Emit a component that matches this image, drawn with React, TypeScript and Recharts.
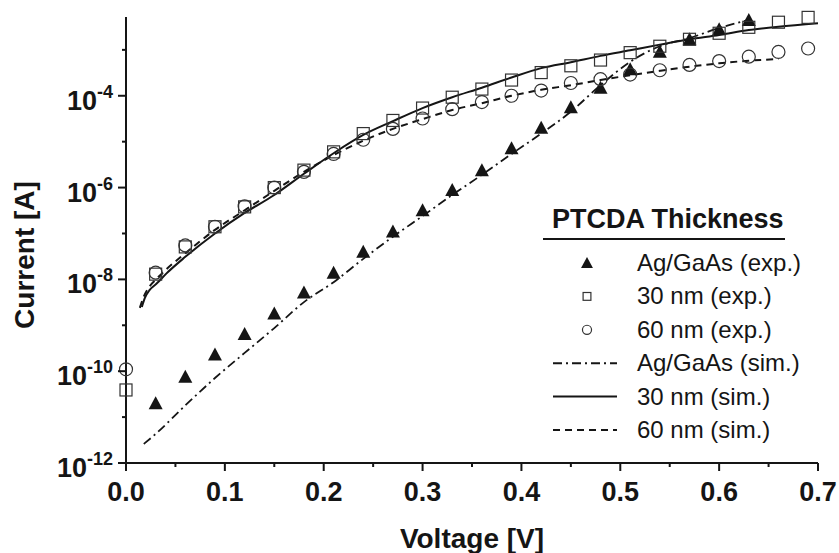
import React from 'react';
import { ComposedChart, Line, Scatter, XAxis, YAxis } from 'recharts';

// experimental points, every 30 mV
const expVoltage = [
  0.0, 0.03, 0.06, 0.09, 0.12, 0.15, 0.18, 0.21, 0.24, 0.27, 0.3, 0.33,
  0.36, 0.39, 0.42, 0.45, 0.48, 0.51, 0.54, 0.57, 0.6, 0.63, 0.66, 0.69,
];
const agGaAsExp = [
  null, 2.0e-11, 7.6e-11, 2.3e-10, 6.5e-10, 1.8e-9, 5.2e-9, 1.4e-8, 4.0e-8, 1.1e-7, 3.2e-7, 8.9e-7,
  2.4e-6, 7.2e-6, 2.0e-5, 5.6e-5, 1.5e-4, 3.8e-4, 9.1e-4, 1.7e-3, 2.8e-3, 4.5e-3, null, null,
];
const nm30Exp = [
  3.9e-11, 1.3e-8, 5.1e-8, 1.4e-7, 3.8e-7, 1.0e-6, 2.4e-6, 6.0e-6, 1.5e-5, 2.9e-5, 5.4e-5, 9.3e-5,
  1.4e-4, 2.2e-4, 3.2e-4, 4.5e-4, 6.0e-4, 8.7e-4, 1.2e-3, 1.7e-3, 2.3e-3, 3.1e-3, 4.0e-3, 5.1e-3,
];
const nm60Exp = [
  1.1e-10, 1.4e-8, 5.5e-8, 1.4e-7, 3.9e-7, 1.0e-6, 2.2e-6, 5.4e-6, 1.1e-5, 1.9e-5, 3.2e-5, 5.1e-5,
  7.3e-5, 1.0e-4, 1.3e-4, 1.9e-4, 2.3e-4, 2.9e-4, 3.6e-4, 4.7e-4, 5.7e-4, 7.1e-4, 9.0e-4, 1.07e-3,
];

// simulated curves
const agSimV = [
  0.018, 0.03, 0.06, 0.09, 0.12, 0.15, 0.18, 0.21, 0.24, 0.27, 0.3,
  0.33, 0.36, 0.39, 0.42, 0.45, 0.48, 0.51, 0.54, 0.57, 0.6, 0.63,
];
const agSimI = [
  2.6e-12, 4.3e-12, 1.8e-11, 7.1e-11, 2.5e-10, 8.7e-10, 3.2e-9, 8.7e-9, 2.8e-8, 8.5e-8, 2.4e-7,
  6.9e-7, 1.9e-6, 5.4e-6, 1.5e-5, 4.5e-5, 1.7e-4, 5.5e-4, 1.2e-3, 1.8e-3, 3.0e-3, 4.5e-3,
];
const nm30SimV = [
  0.016, 0.019, 0.024, 0.031, 0.041, 0.06, 0.09, 0.12, 0.15, 0.18, 0.21, 0.24, 0.27, 0.3,
  0.33, 0.36, 0.39, 0.42, 0.45, 0.48, 0.51, 0.54, 0.57, 0.6, 0.63, 0.66, 0.7,
];
const nm30SimI = [
  2.5e-9, 3.9e-9, 5.9e-9, 8.1e-9, 1.35e-8, 3.1e-8, 1.0e-7, 2.8e-7, 6.9e-7, 2.0e-6, 5.6e-6, 1.4e-5, 2.8e-5, 5.4e-5,
  9.3e-5, 1.5e-4, 2.5e-4, 4.0e-4, 5.4e-4, 7.4e-4, 9.8e-4, 1.3e-3, 1.7e-3, 2.1e-3, 2.7e-3, 3.2e-3, 3.8e-3,
];
const nm60SimV = [
  0.014, 0.018, 0.024, 0.03, 0.04, 0.06, 0.09, 0.12, 0.15, 0.18, 0.21, 0.24, 0.27, 0.3,
  0.33, 0.36, 0.39, 0.42, 0.45, 0.48, 0.51, 0.54, 0.57, 0.6, 0.63, 0.66,
];
const nm60SimI = [
  2.4e-9, 4.2e-9, 7.1e-9, 9.8e-9, 1.6e-8, 3.7e-8, 1.2e-7, 3.2e-7, 8.5e-7, 2.2e-6, 5.1e-6, 1.05e-5, 1.9e-5, 3.1e-5,
  4.9e-5, 6.9e-5, 1.0e-4, 1.35e-4, 1.7e-4, 2.2e-4, 2.8e-4, 3.5e-4, 4.3e-4, 5.1e-4, 5.8e-4, 6.3e-4,
];

const xTicks = [0, 0.05, 0.1, 0.15, 0.2, 0.25, 0.3, 0.35, 0.4, 0.45, 0.5, 0.55, 0.6, 0.65, 0.7];
const yTicks = [1e-12, 1e-11, 1e-10, 1e-9, 1e-8, 1e-7, 1e-6, 1e-5, 1e-4, 1e-3];

const FONT = '"Liberation Sans", Arial, Helvetica, sans-serif';
const INK = '#151515';

const toPoints = (xs: number[], ys: (number | null)[]) =>
  xs.map((v, k) => ({ v, i: ys[k] })).filter((d) => d.i != null);

const Triangle = ({ cx, cy, s = 1 }: any) => (
  <polygon points={`${cx},${cy - 7 * s} ${cx - 7 * s},${cy + 6 * s} ${cx + 7 * s},${cy + 6 * s}`} fill={INK} />
);
const Square = ({ cx, cy, s = 1 }: any) => (
  <rect x={cx - 6 * s} y={cy - 6 * s} width={12 * s} height={12 * s} fill="none" stroke="#333" strokeWidth={1.2} />
);
const Ring = ({ cx, cy, s = 1 }: any) => (
  <circle cx={cx} cy={cy} r={6.5 * s} fill="none" stroke="#333" strokeWidth={1.2} />
);

const XTick = ({ x, y, payload }: any) => {
  const v = payload.value;
  const major = Math.abs(v * 10 - Math.round(v * 10)) < 1e-6;
  return (
    <g>
      <line x1={x} x2={x} y1={y} y2={y + (major ? 8 : 4)} stroke={INK} strokeWidth={2} />
      {major && (
        <text x={x} y={y + 38} textAnchor="middle" fontFamily={FONT} fontWeight="bold" fontSize={27} fill={INK}>
          {v.toFixed(1)}
        </text>
      )}
    </g>
  );
};

const YTick = ({ x, y, payload }: any) => {
  const exp = Math.round(Math.log10(payload.value));
  const major = exp % 2 === 0;
  return (
    <g>
      <line x1={x - (major ? 8 : 4)} x2={x} y1={y} y2={y} stroke={INK} strokeWidth={2} />
      {major && (
        <text x={x - 13} y={y + 14} textAnchor="end" fontFamily={FONT} fontWeight="bold" fontSize={27} fill={INK}>
          <tspan>10</tspan>
          <tspan dy={-12} fontSize={18}>{exp}</tspan>
        </text>
      )}
    </g>
  );
};

const XTitle = () => (
  <text x={472} y={548} textAnchor="middle" fontFamily={FONT} fontWeight="bold" fontSize={28} fill={INK}>
    Voltage [V]
  </text>
);
const YTitle = () => (
  <text transform="translate(34,255) rotate(-90)" textAnchor="middle" fontFamily={FONT} fontWeight="bold" fontSize={28} fill={INK}>
    Current [A]
  </text>
);

const legendItems = [
  { label: 'Ag/GaAs (exp.)', marker: Triangle, s: 0.85 },
  { label: '30 nm (exp.)', marker: Square, s: 0.65 },
  { label: '60 nm (exp.)', marker: Ring, s: 0.7 },
  { label: 'Ag/GaAs (sim.)', dash: '9 4 2 4' },
  { label: '30 nm (sim.)', dash: undefined },
  { label: '60 nm (sim.)', dash: '7 5' },
];

const LegendBox = () => (
  <svg width={839} height={553} style={{ position: 'absolute', left: 0, top: 0, pointerEvents: 'none' }}>
    <text x={552} y={228} fontFamily={FONT} fontWeight="bold" fontSize={27} fill={INK}>
      PTCDA Thickness
    </text>
    <line x1={543} x2={785} y1={239} y2={239} stroke={INK} strokeWidth={2} />
    {legendItems.map((it: any, k) => {
      const cy = 263 + k * 33.4;
      return (
        <g key={it.label}>
          {it.marker ? (
            <it.marker cx={587} cy={cy} s={it.s} />
          ) : (
            <line x1={553} x2={617} y1={cy} y2={cy} stroke={INK} strokeWidth={2} strokeDasharray={it.dash} />
          )}
          <text x={637} y={cy + 8} fontFamily={FONT} fontSize={24} fill={INK}>
            {it.label}
          </text>
        </g>
      );
    })}
  </svg>
);

export default function App() {
  return (
    <div style={{ position: 'absolute', left: 0, top: 0, width: 839, height: 553, background: '#fff' }}>
      <ComposedChart width={839} height={553} margin={{ top: 17, right: 21, bottom: 0, left: 0 }}>
        <XAxis
          type="number"
          dataKey="v"
          domain={[0, 0.7]}
          ticks={xTicks}
          interval={0}
          height={90}
          tickSize={0}
          tickMargin={0}
          tickLine={false}
          tick={<XTick />}
          axisLine={{ stroke: INK, strokeWidth: 2 }}
          label={<XTitle />}
        />
        <XAxis
          xAxisId="top"
          orientation="top"
          type="number"
          domain={[0, 0.7]}
          ticks={xTicks}
          interval={0}
          height={0}
          mirror
          tick={false}
          tickSize={2}
          tickLine={{ stroke: INK, strokeWidth: 1 }}
          axisLine={{ stroke: INK, strokeWidth: 2 }}
        />
        <YAxis
          type="number"
          dataKey="i"
          scale="log"
          domain={[1e-12, 5.2e-3]}
          ticks={yTicks}
          interval={0}
          width={126}
          tickSize={0}
          tickMargin={0}
          tickLine={false}
          tick={<YTick />}
          axisLine={{ stroke: INK, strokeWidth: 2 }}
          label={<YTitle />}
        />
        <YAxis
          yAxisId="right"
          orientation="right"
          type="number"
          scale="log"
          domain={[1e-12, 5.2e-3]}
          ticks={yTicks}
          interval={0}
          width={0}
          mirror
          tick={false}
          tickSize={3}
          tickLine={{ stroke: INK, strokeWidth: 1 }}
          axisLine={{ stroke: INK, strokeWidth: 2 }}
        />
        <Line
          data={toPoints(agSimV, agSimI)}
          dataKey="i"
          type="monotone"
          stroke={INK}
          strokeWidth={1.8}
          strokeDasharray="9 4 2 4"
          dot={false}
          activeDot={false}
          isAnimationActive={false}
        />
        <Line
          data={toPoints(nm30SimV, nm30SimI)}
          dataKey="i"
          type="monotone"
          stroke={INK}
          strokeWidth={2}
          dot={false}
          activeDot={false}
          isAnimationActive={false}
        />
        <Line
          data={toPoints(nm60SimV, nm60SimI)}
          dataKey="i"
          type="monotone"
          stroke={INK}
          strokeWidth={2}
          strokeDasharray="7 5"
          dot={false}
          activeDot={false}
          isAnimationActive={false}
        />
        <Scatter data={toPoints(expVoltage, agGaAsExp)} dataKey="i" shape={<Triangle />} isAnimationActive={false} />
        <Scatter data={toPoints(expVoltage, nm30Exp)} dataKey="i" shape={<Square />} isAnimationActive={false} />
        <Scatter data={toPoints(expVoltage, nm60Exp)} dataKey="i" shape={<Ring />} isAnimationActive={false} />
      </ComposedChart>
      <LegendBox />
    </div>
  );
}
